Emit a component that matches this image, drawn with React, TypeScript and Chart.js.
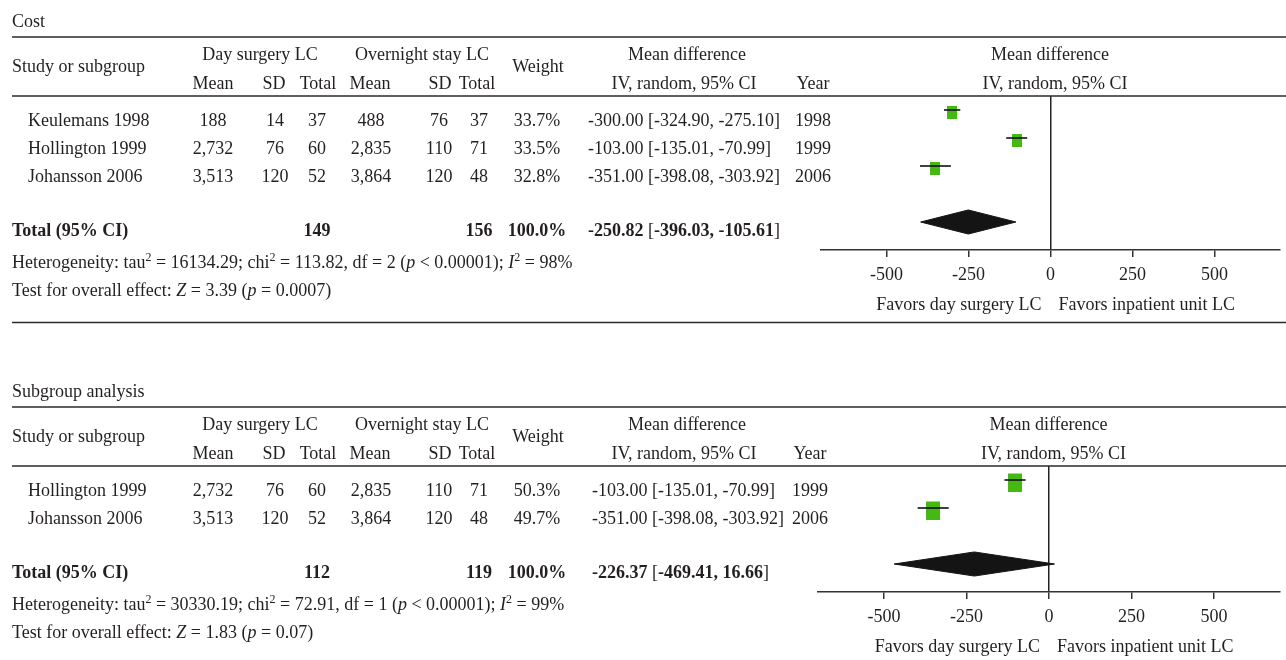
import React, { useEffect, useRef } from "react";
import { Chart, registerables } from "chart.js";
Chart.register(...registerables);

const FONT = '"Liberation Serif", "Times New Roman", serif';
const INK = "#231f20";

// ---------- Panel 1: Cost ----------
const costTitle = "Cost";
const costStudies = ["Keulemans 1998", "Hollington 1999", "Johansson 2006"];
const costDayMean = ["188", "2,732", "3,513"];
const costDaySD = ["14", "76", "120"];
const costDayTotal = ["37", "60", "52"];
const costNightMean = ["488", "2,835", "3,864"];
const costNightSD = ["76", "110", "120"];
const costNightTotal = ["37", "71", "48"];
const costWeight = [33.7, 33.5, 32.8];
const costMD = [-300.0, -103.0, -351.0];
const costLo = [-324.9, -135.01, -398.08];
const costHi = [-275.1, -70.99, -303.92];
const costYear = ["1998", "1999", "2006"];
const costTotals = ["149", "156"];
const costPooled = [-250.82, -396.03, -105.61];
const costHet = ["16134.29", "113.82", "2", "0.00001", "98"];
const costZ = ["3.39", "0.0007"];

// ---------- Panel 2: Subgroup analysis ----------
const subTitle = "Subgroup analysis";
const subStudies = ["Hollington 1999", "Johansson 2006"];
const subDayMean = ["2,732", "3,513"];
const subDaySD = ["76", "120"];
const subDayTotal = ["60", "52"];
const subNightMean = ["2,835", "3,864"];
const subNightSD = ["110", "120"];
const subNightTotal = ["71", "48"];
const subWeight = [50.3, 49.7];
const subMD = [-103.0, -351.0];
const subLo = [-135.01, -398.08];
const subHi = [-70.99, -303.92];
const subYear = ["1999", "2006"];
const subTotals = ["112", "119"];
const subPooled = [-226.37, -469.41, 16.66];
const subHet = ["30330.19", "72.91", "1", "0.00001", "99"];
const subZ = ["1.83", "0.07"];

// ---------- Shared labels / axis ----------
const xTicks = [-500, -250, 0, 250, 500];
const xMin = -700;
const xMax = 700;
const groupLabels = ["Day surgery LC", "Overnight stay LC"];
const colLabels = ["Mean", "SD", "Total", "Mean", "SD", "Total"];
const favorsLabels = ["Favors day surgery LC", "Favors inpatient unit LC"];

// ---------- layout constants ----------
const ROW = 28;
const AREA_TOP = 96;
const valueColX = [213, 275, 317, 371, 439, 479];
const headColX = [213, 274, 318, 370, 440, 477];
const groupX = [260, 422];
const weightX = 537;

type Seg = { t: string; b?: boolean; i?: boolean; sup?: boolean };

function segFont(s: Seg) {
  return `${s.i ? "italic " : ""}${s.b ? "bold " : ""}${s.sup ? 12 : 18}px ${FONT}`;
}

function drawSegs(ctx: CanvasRenderingContext2D, segs: Seg[], x: number, y: number, align: "left" | "center" | "right") {
  const widths = segs.map((s) => {
    ctx.font = segFont(s);
    return ctx.measureText(s.t).width;
  });
  const total = widths.reduce((a, b) => a + b, 0);
  let cx = align === "left" ? x : align === "center" ? x - total / 2 : x - total;
  ctx.textAlign = "left";
  segs.forEach((s, k) => {
    ctx.font = segFont(s);
    ctx.fillText(s.t, cx, s.sup ? y - 7 : y);
    cx += widths[k];
  });
}

function txt(ctx: CanvasRenderingContext2D, t: string, x: number, y: number, align: "left" | "center" | "right", bold = false) {
  drawSegs(ctx, [{ t, b: bold }], x, y, align);
}

function makeSquare(weight: number): HTMLCanvasElement {
  const w = Math.round(0.24 * weight + 1.9);
  const h = Math.round(0.3 * weight + 2.9);
  const drop = 5;
  const c = document.createElement("canvas");
  c.width = w;
  c.height = h + drop;
  const g = c.getContext("2d")!;
  g.fillStyle = "#45b912";
  g.fillRect(0, drop, w, h);
  return c;
}

type PanelDef = {
  title: string;
  studies: string[];
  dayMean: string[];
  daySD: string[];
  dayTotal: string[];
  nightMean: string[];
  nightSD: string[];
  nightTotal: string[];
  weights: number[];
  md: number[];
  lo: number[];
  hi: number[];
  years: string[];
  totals: string[];
  pooled: number[];
  het: string[];
  z: string[];
  top: number;
  height: number;
  plotLeft: number;
  mdX: number;
  yearX: number;
  bottomRule: boolean;
};

const fmt = (v: number) => v.toFixed(2);

function Panel({ p }: { p: PanelDef }) {
  const ref = useRef<HTMLCanvasElement | null>(null);
  useEffect(() => {
    const canvas = ref.current!;
    const n = p.studies.length;
    const areaBottom = AREA_TOP + (n + 2.5) * ROW;
    const axisH = p.height - areaBottom;
    const plotW = 462;

    const ciSets = p.md.map((_, i) => ({
      type: "scatter" as const,
      data: [
        { x: p.lo[i], y: i },
        { x: p.hi[i], y: i },
      ],
      showLine: true,
      borderColor: "#111",
      borderWidth: 1.6,
      pointRadius: 0,
      fill: false,
    }));
    const squares = {
      type: "scatter" as const,
      data: p.md.map((m, i) => ({ x: m, y: i })),
      pointStyle: p.weights.map((w) => makeSquare(w)),
      pointRadius: 5,
      showLine: false,
    };
    const yT = n + 1;
    const half = 0.43;
    const diamond = {
      type: "scatter" as const,
      data: [
        { x: p.pooled[1], y: yT },
        { x: p.pooled[0], y: yT - half },
        { x: p.pooled[2], y: yT },
        { x: p.pooled[0], y: yT + half },
        { x: p.pooled[1], y: yT },
      ],
      showLine: true,
      fill: "shape" as any,
      backgroundColor: "#141414",
      borderColor: "#141414",
      borderWidth: 1,
      pointRadius: 0,
      tension: 0,
    };

    const tablePlugin = {
      id: "forestTable",
      afterDraw(chart: any) {
        const ctx: CanvasRenderingContext2D = chart.ctx;
        const ys = chart.scales.y;
        const xs = chart.scales.x;
        const zero = xs.getPixelForValue(0);
        ctx.save();
        ctx.fillStyle = INK;
        ctx.textBaseline = "alphabetic";
        ctx.strokeStyle = "#2a2a2a";
        ctx.lineWidth = 1.5;
        const rule = (yy: number) => {
          ctx.beginPath();
          ctx.moveTo(12, yy);
          ctx.lineTo(1286, yy);
          ctx.stroke();
        };
        rule(37);
        rule(AREA_TOP);
        if (p.bottomRule) rule(xs.top + 72.5);

        // title & headers
        txt(ctx, p.title, 12, 26.5, "left");
        txt(ctx, "Study or subgroup", 12, 72, "left");
        txt(ctx, groupLabels[0], groupX[0], 60, "center");
        txt(ctx, groupLabels[1], groupX[1], 60, "center");
        colLabels.forEach((c, k) => txt(ctx, c, headColX[k], 89, "center"));
        txt(ctx, "Weight", weightX + 1, 72, "center");
        txt(ctx, "Mean difference", 687, 60, "center");
        txt(ctx, "IV, random, 95% CI", 684, 89, "center");
        txt(ctx, "Year", p.yearX, 89, "center");
        txt(ctx, "Mean difference", zero - 0.5, 60, "center");
        txt(ctx, "IV, random, 95% CI", zero + 4.5, 89, "center");

        // study rows
        p.studies.forEach((s, i) => {
          const by = ys.getPixelForValue(i) + 16;
          txt(ctx, s, 28, by, "left");
          const vals = [p.dayMean[i], p.daySD[i], p.dayTotal[i], p.nightMean[i], p.nightSD[i], p.nightTotal[i]];
          vals.forEach((v, k) => txt(ctx, v, valueColX[k], by, "center"));
          txt(ctx, `${p.weights[i].toFixed(1)}%`, weightX, by, "center");
          txt(ctx, `${fmt(p.md[i])} [${fmt(p.lo[i])}, ${fmt(p.hi[i])}]`, p.mdX, by, "left");
          txt(ctx, p.years[i], p.yearX, by, "center");
        });

        // total row
        const tb = ys.getPixelForValue(n + 1) + 14;
        txt(ctx, "Total (95% CI)", 12, tb, "left", true);
        txt(ctx, p.totals[0], valueColX[2], tb, "center", true);
        txt(ctx, p.totals[1], valueColX[5], tb, "center", true);
        const wsum = p.weights.reduce((a, b) => a + b, 0);
        txt(ctx, `${wsum.toFixed(1)}%`, weightX, tb, "center", true);
        drawSegs(
          ctx,
          [
            { t: `${fmt(p.pooled[0])} `, b: true },
            { t: "[" },
            { t: `${fmt(p.pooled[1])}, ${fmt(p.pooled[2])}`, b: true },
            { t: "]" },
          ],
          p.mdX,
          tb,
          "left"
        );

        // heterogeneity & overall effect
        drawSegs(
          ctx,
          [
            { t: "Heterogeneity: tau" },
            { t: "2", sup: true },
            { t: ` = ${p.het[0]}; chi` },
            { t: "2", sup: true },
            { t: ` = ${p.het[1]}, df = ${p.het[2]} (` },
            { t: "p", i: true },
            { t: ` < ${p.het[3]}); ` },
            { t: "I", i: true },
            { t: "2", sup: true },
            { t: ` = ${p.het[4]}%` },
          ],
          12,
          tb + 32,
          "left"
        );
        drawSegs(
          ctx,
          [
            { t: "Test for overall effect: " },
            { t: "Z", i: true },
            { t: ` = ${p.z[0]} (` },
            { t: "p", i: true },
            { t: ` = ${p.z[1]})` },
          ],
          12,
          tb + 60,
          "left"
        );

        // favors labels
        const fy = xs.top + 60;
        txt(ctx, favorsLabels[0], zero - 9, fy, "right");
        txt(ctx, favorsLabels[1], zero + 8, fy, "left");
        ctx.restore();
      },
    };

    const chart = new Chart(canvas, {
      type: "scatter",
      data: { datasets: [...ciSets, squares, diamond] as any },
      options: {
        animation: false,
        responsive: false,
        devicePixelRatio: 1,
        events: [],
        layout: { padding: { top: AREA_TOP, left: p.plotLeft, right: 1286 - p.plotLeft - plotW, bottom: 0 } },
        plugins: { legend: { display: false }, tooltip: { enabled: false } },
        scales: {
          x: {
            type: "linear",
            min: xMin,
            max: xMax,
            position: "bottom",
            afterBuildTicks: (a: any) => {
              a.ticks = xTicks.map((v) => ({ value: v }));
            },
            afterFit: (a: any) => {
              a.height = axisH;
            },
            grid: {
              drawOnChartArea: true,
              drawTicks: true,
              tickLength: 7,
              lineWidth: 1.5,
              tickColor: "#333",
              color: (c: any) => (c.tick && c.tick.value === 0 ? "#222" : "rgba(0,0,0,0)"),
            },
            border: { display: true, color: "#333", width: 1.5 },
            ticks: {
              padding: 7,
              color: INK,
              font: { family: FONT, size: 18 },
              callback: (v: any) => String(v),
            },
          },
          y: {
            type: "linear",
            min: -0.5,
            max: n + 2,
            reverse: true,
            display: false,
          },
        },
      },
      plugins: [tablePlugin],
    });
    return () => chart.destroy();
  }, [p]);
  return (
    <canvas
      ref={ref}
      width={1286}
      height={p.height}
      style={{ position: "absolute", left: 0, top: p.top, width: 1286, height: p.height, display: "block" }}
    />
  );
}

const costPanel: PanelDef = {
  title: costTitle,
  studies: costStudies,
  dayMean: costDayMean,
  daySD: costDaySD,
  dayTotal: costDayTotal,
  nightMean: costNightMean,
  nightSD: costNightSD,
  nightTotal: costNightTotal,
  weights: costWeight,
  md: costMD,
  lo: costLo,
  hi: costHi,
  years: costYear,
  totals: costTotals,
  pooled: costPooled,
  het: costHet,
  z: costZ,
  top: 0,
  height: 335,
  plotLeft: 821,
  mdX: 588,
  yearX: 813,
  bottomRule: true,
};

const subPanel: PanelDef = {
  title: subTitle,
  studies: subStudies,
  dayMean: subDayMean,
  daySD: subDaySD,
  dayTotal: subDayTotal,
  nightMean: subNightMean,
  nightSD: subNightSD,
  nightTotal: subNightTotal,
  weights: subWeight,
  md: subMD,
  lo: subLo,
  hi: subHi,
  years: subYear,
  totals: subTotals,
  pooled: subPooled,
  het: subHet,
  z: subZ,
  top: 370,
  height: 290,
  plotLeft: 818,
  mdX: 592,
  yearX: 810,
  bottomRule: false,
};

export default function App() {
  return (
    <div style={{ position: "absolute", left: 0, top: 0, width: 1286, height: 660, background: "#fff", overflow: "hidden" }}>
      <Panel p={costPanel} />
      <Panel p={subPanel} />
    </div>
  );
}
